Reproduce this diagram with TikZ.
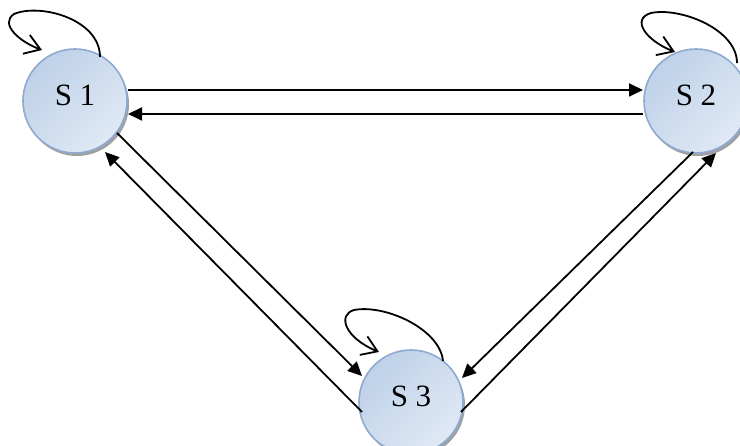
\documentclass[tikz,border=0pt]{standalone}
\usepackage{fontspec}
\setmainfont{Liberation Serif}
\usetikzlibrary{arrows.meta,calc,shadows}
\definecolor{cfillA}{HTML}{BED1E8}
\definecolor{cfillB}{HTML}{E0E9F5}
\definecolor{cborder}{HTML}{8EAAD2}
\definecolor{cshadow}{HTML}{A0A0A0}
\tikzset{
  state/.style={circle, minimum size=104pt, inner sep=0pt, draw=cborder, line width=1.6pt,
    left color=cfillA, right color=cfillB, shading angle=45,
    font=\fontsize{31}{33}\selectfont, text depth=12pt},
  stshadow/.style={circle, minimum size=104pt, inner sep=0pt, fill=cshadow},
  arr/.style={line width=1.8pt, -{Triangle[length=14pt,width=13pt]}},
  selfloop/.style={line width=1.8pt, -{Straight Barb[length=15pt,width=20pt,line width=1.8pt]}}
}
\begin{document}
\begin{tikzpicture}[x=1pt,y=-1pt]
\useasboundingbox (0,0) rectangle (740,446);
% shadows
\node[stshadow] (sh1) at (77,104) {};
\node[stshadow] (sh2) at (698,104) {};
\node[stshadow] (sh3) at (413,405) {};
% states
\node[state] (s1) at (75,101) {S 1};
\node[state] (s2) at (696,101) {S 2};
\node[state] (s3) at (411,402) {S 3};
% horizontal pair
\draw[arr] ($(s1)+(53,-11)$) -- ($(s2)+(-53,-11)$);
\draw[arr] ($(s2)+(-53,13)$) -- ($(s1)+(53,13)$);
% S1 - S3 pair
\draw[arr] ($(s1)+(42,32)$) -- ($(s3)+(-49,-26)$);
\draw[arr] ($(s3)+(-49,10)$) -- ($(s1)+(30,51)$);
% S2 - S3 pair
\draw[arr] ($(s2)+(-3,51)$) -- ($(s3)+(51,-24)$);
\draw[arr] ($(s3)+(50,10)$) -- ($(s2)+(20,52)$);
% self loops
\draw[selfloop] ($(s1)+(25,-44)$) .. controls ($(s1)+(25,-82)$) and ($(s1)+(-35,-98)$) .. ($(s1)+(-61,-87)$)
   .. controls ($(s1)+(-76,-77)$) and ($(s1)+(-55,-59)$) .. ($(s1)+(-33,-51)$);
\draw[selfloop] ($(s2)+(41,-38)$) .. controls ($(s2)+(41,-72)$) and ($(s2)+(-16,-94)$) .. ($(s2)+(-45,-88)$)
   .. controls ($(s2)+(-65,-82)$) and ($(s2)+(-51,-61)$) .. ($(s2)+(-21,-49)$);
\draw[selfloop] ($(s3)+(32,-41)$) .. controls ($(s3)+(29,-73)$) and ($(s3)+(-26,-98)$) .. ($(s3)+(-57,-92)$)
   .. controls ($(s3)+(-74,-87)$) and ($(s3)+(-66,-64)$) .. ($(s3)+(-32,-50)$);
\end{tikzpicture}
\end{document}
